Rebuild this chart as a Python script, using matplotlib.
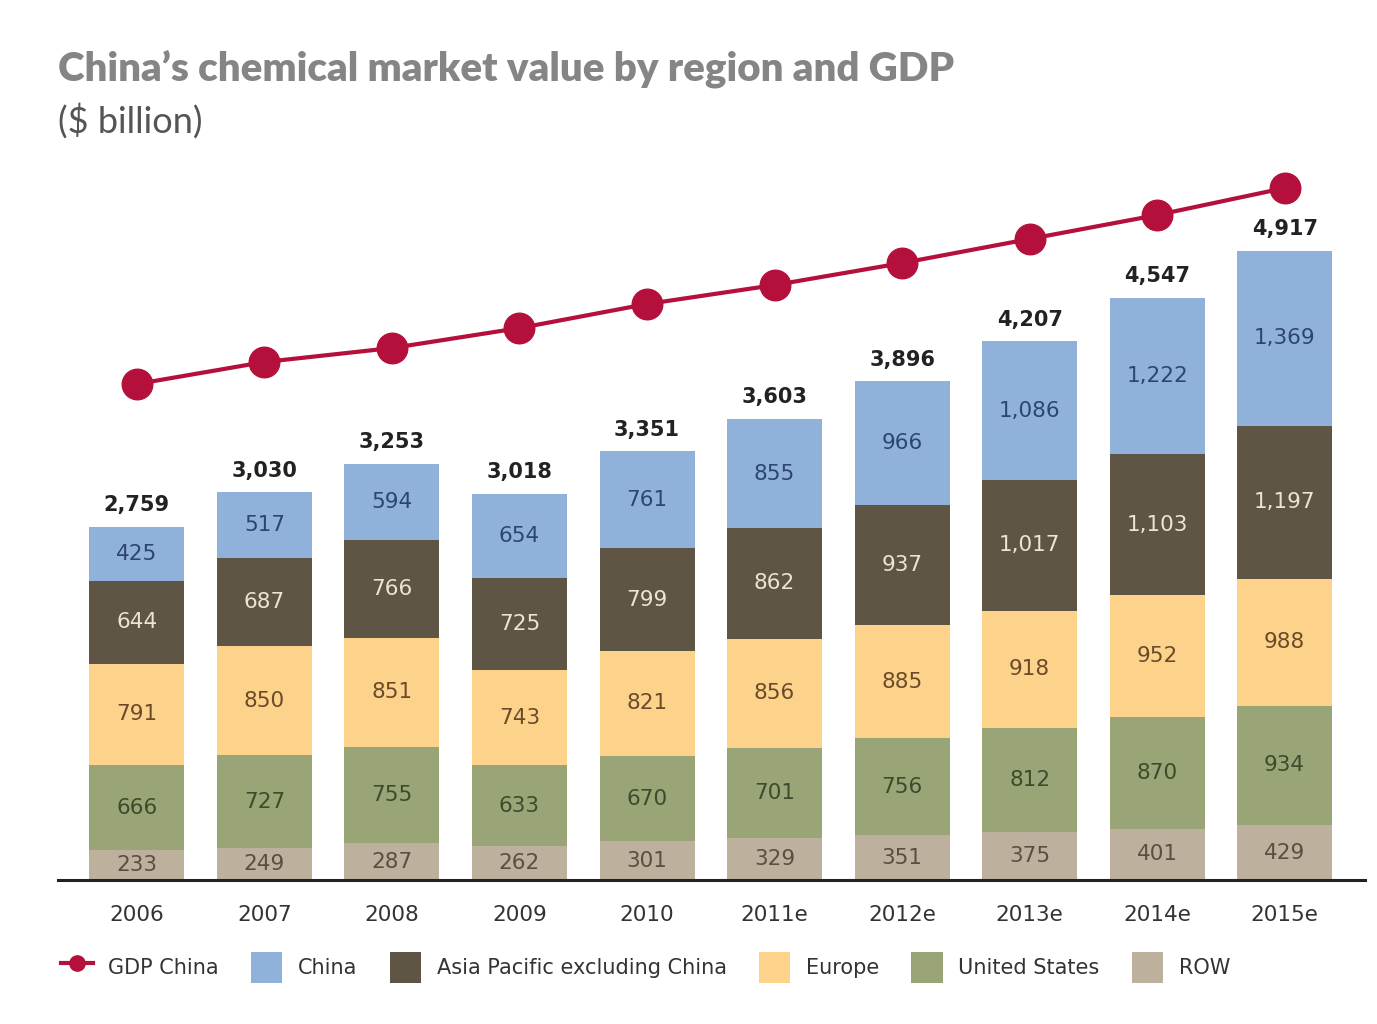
import matplotlib.pyplot as plt
import numpy as np

plt.rcParams['font.family'] = ['DejaVu Sans']

years = ['2006', '2007', '2008', '2009', '2010', '2011e', '2012e', '2013e', '2014e', '2015e']
row = [233, 249, 287, 262, 301, 329, 351, 375, 401, 429]
us = [666, 727, 755, 633, 670, 701, 756, 812, 870, 934]
europe = [791, 850, 851, 743, 821, 856, 885, 918, 952, 988]
asia = [644, 687, 766, 725, 799, 862, 937, 1017, 1103, 1197]
china = [425, 517, 594, 654, 761, 855, 966, 1086, 1222, 1369]
totals = [2759, 3030, 3253, 3018, 3351, 3603, 3896, 4207, 4547, 4917]
# GDP line has no printed values; positions
gdp = [3875, 4047, 4156, 4312, 4500, 4648, 4820, 5008, 5195, 5406]

series = [
    ('ROW', row, '#bdb09c', '#5a4e42'),
    ('United States', us, '#99a576', '#3e4a2c'),
    ('Europe', europe, '#fdd38b', '#6a4a2a'),
    ('Asia Pacific excluding China', asia, '#5f5544', '#ece4d4'),
    ('China', china, '#90b1da', '#2c4670'),
]

fig = plt.figure(figsize=(13.77, 10.24), dpi=100)
ax = fig.add_axes([0.042, 0.1406, 0.949, 0.6934])

x = np.arange(len(years))
w = 0.745
bottom = np.zeros(len(years))
handles = {}
for name, vals, col, tcol in series:
    vals = np.array(vals)
    b = ax.bar(x, vals, w, bottom=bottom, color=col, label=name, zorder=2)
    handles[name] = b
    for xi, v, b0 in zip(x, vals, bottom):
        ax.text(xi, b0 + v / 2, f'{v:,}', ha='center', va='center',
                fontsize=15.5, color=tcol, zorder=3)
    bottom = bottom + vals

for xi, t in zip(x, totals):
    ax.text(xi, t + 90, f'{t:,}', ha='center', va='bottom', fontsize=15,
            fontweight='bold', color='#222222')

line, = ax.plot(x, gdp, color='#b5103c', lw=3, marker='o', markersize=22,
                label='GDP China', zorder=4)

ax.set_xlim(-0.62, 9.627)
ax.set_ylim(0, 5547)
for s in ['top', 'right', 'left']:
    ax.spines[s].set_visible(False)
ax.spines['bottom'].set_linewidth(2.2)
ax.spines['bottom'].set_color('#222222')
ax.set_yticks([])
ax.set_xticks(x)
ax.set_xticklabels(years, fontsize=15.5, color='#333333')
ax.tick_params(axis='x', length=0, pad=18)

fig.text(0.042, 0.932, 'China\u2019s chemical market value by region and GDP',
         fontsize=29, fontweight='heavy', color='#858585', va='center',
         family=['Lato', 'DejaVu Sans'])
fig.text(0.042, 0.882, '($ billion)', fontsize=26, color='#555555', va='center',
         family=['Lato', 'DejaVu Sans'])

order = ['China', 'Asia Pacific excluding China', 'Europe', 'United States', 'ROW']
hl = [line] + [handles[n] for n in order]
ll = ['GDP China'] + order
leg = fig.legend(hl, ll, loc='center left', bbox_to_anchor=(0.037, 0.055), ncol=6,
                 frameon=False, fontsize=15, handlelength=1.5, handleheight=1.9,
                 columnspacing=1.55, handletextpad=0.75, markerscale=0.5,
                 borderpad=0)
for t in leg.get_texts():
    t.set_color('#333333')

fig.savefig('out.png', dpi=100, facecolor='white')
